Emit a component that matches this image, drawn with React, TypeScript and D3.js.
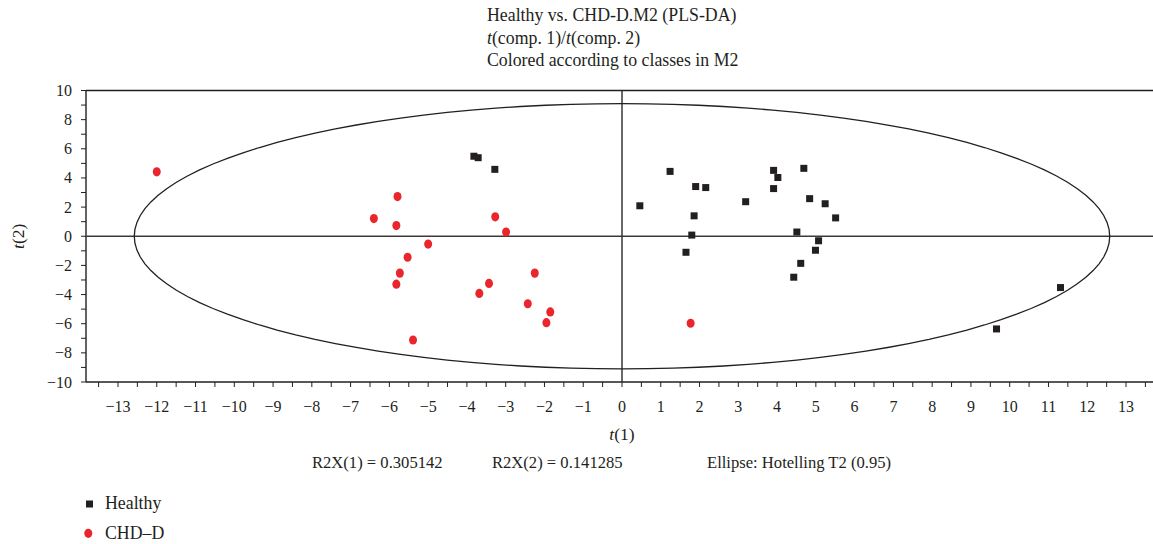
import React from 'react'
import * as d3 from 'd3'

// scores, t(1) / t(2)
const healthyT1 = [-3.82, -3.71, -3.28, 0.46, 1.24, 1.90, 2.16, 1.86, 1.80, 1.65, 3.19, 3.91, 4.02, 3.91, 4.69, 4.84, 5.24, 5.51, 4.51, 5.07, 4.99, 4.61, 4.43, 11.31, 9.66]
const healthyT2 = [5.49, 5.39, 4.59, 2.09, 4.45, 3.41, 3.34, 1.40, 0.08, -1.10, 2.37, 4.52, 4.03, 3.27, 4.66, 2.58, 2.23, 1.26, 0.29, -0.31, -0.96, -1.86, -2.81, -3.52, -6.36]

const chdT1 = [-12.0, -5.79, -6.40, -5.82, -3.27, -2.99, -5.00, -5.53, -5.73, -5.82, -2.25, -3.43, -3.68, -2.43, -1.85, -1.95, -5.39, 1.77]
const chdT2 = [4.42, 2.72, 1.21, 0.73, 1.33, 0.29, -0.54, -1.44, -2.53, -3.29, -2.53, -3.24, -3.92, -4.63, -5.19, -5.93, -7.12, -5.97]

// Hotelling T2 (0.95) semi axes
const ellipseA = 12.58
const ellipseB = 9.1

const titleLines = ['Healthy vs. CHD-D.M2 (PLS-DA)', 't(comp. 1)/t(comp. 2)', 'Colored according to classes in M2']
const statLabels = ['R2X(1) = 0.305142', 'R2X(2) = 0.141285', 'Ellipse: Hotelling T2 (0.95)']
const legendLabels = ['Healthy', 'CHD\u2013D']

const INK = '#231f20'
const RED = '#e8262b'
const FONT = '"Liberation Serif", "DejaVu Serif", serif'

const margin = { top: 90.5, left: 86, bottom: 162, right: -5 }
const width = 1153
const height = 544

export default function App () {
  const x = d3.scaleLinear().domain([-13.825, 13.825]).range([margin.left, width - margin.right])
  const y = d3.scaleLinear().domain([-10, 10]).range([height - margin.bottom, margin.top])

  const xMajor = d3.range(-13, 14, 1)
  const xMinor = d3.range(-13.5, 14, 0.5)
  const yMajor = d3.range(-10, 11, 2)
  const yMinor = d3.range(-10, 11, 1)
  const fmt = d3.format('d')

  const ellipsePts = d3.range(0, 361, 3).map((deg) => {
    const a = deg * Math.PI / 180
    return [ellipseA * Math.cos(a), ellipseB * Math.sin(a)]
  })
  const ellipsePath = d3.line()
    .x((d) => x(d[0]))
    .y((d) => y(d[1]))
    .curve(d3.curveLinearClosed)(ellipsePts as [number, number][])

  const x0 = x.range()[0]
  const x1 = width
  const yTop = y(10)
  const yBot = y(-10)

  return (
    <div style={{ position: 'fixed', left: 0, top: 0, width, height, overflow: 'hidden' }}>
      <svg width={width} height={height} style={{ display: 'block', fontFamily: FONT }}>
        <rect width={width} height={height} fill='#fff' />

        {/* title */}
        <g fill={INK} fontSize={17.8}>
          <text x={487} y={20.5}>{titleLines[0]}</text>
          <text x={487} y={43.5}>
            <tspan fontStyle='italic'>t</tspan>(comp. 1)/<tspan fontStyle='italic'>t</tspan>(comp. 2)
          </text>
          <text x={487} y={66}>{titleLines[2]}</text>
        </g>

        {/* frame */}
        <g stroke={INK} strokeWidth={1.4} fill='none'>
          <line x1={x0} x2={x1} y1={yTop} y2={yTop} />
          <line x1={x0} x2={x0} y1={yTop} y2={yBot} />
          <line x1={x0} x2={x1} y1={yBot} y2={yBot} />
          <line x1={x0} x2={x1} y1={y(0)} y2={y(0)} stroke='#3a3a3a' />
          <line x1={x(0)} x2={x(0)} y1={yTop} y2={yBot} stroke='#2a2a2a' />
        </g>

        {/* x axis */}
        <g stroke={INK} strokeWidth={1}>
          {xMinor.map((t) => (
            <line key={'xm' + t} x1={x(t)} x2={x(t)} y1={yBot} y2={yBot + 5} />
          ))}
        </g>
        <g fill={INK} fontSize={16} textAnchor='middle'>
          {xMajor.map((t) => (
            <text key={'xl' + t} x={x(t)} y={yBot + 29.5}>{fmt(t)}</text>
          ))}
        </g>

        {/* y axis */}
        <g stroke={INK} strokeWidth={1}>
          {yMinor.map((t) => (
            <line key={'ym' + t} x1={x0 - 5} x2={x0} y1={y(t)} y2={y(t)} />
          ))}
        </g>
        <g fill={INK} fontSize={16} textAnchor='end'>
          {yMajor.map((t) => (
            <text key={'yl' + t} x={x0 - 14} y={y(t) + 5.5}>{fmt(t)}</text>
          ))}
        </g>

        {/* axis titles */}
        <text x={x(0)} y={440} fontSize={17.5} fill={INK} textAnchor='middle'>
          <tspan fontStyle='italic'>t</tspan>(1)
        </text>
        <text transform={`translate(24,${y(0)}) rotate(-90)`} fontSize={17.5} fill={INK} textAnchor='middle'>
          <tspan fontStyle='italic'>t</tspan>(2)
        </text>

        {/* ellipse */}
        <path d={ellipsePath || ''} fill='none' stroke={INK} strokeWidth={1.3} />

        {/* points */}
        <g fill={INK}>
          {healthyT1.map((v, i) => (
            <rect key={'h' + i} x={x(v) - 3.5} y={y(healthyT2[i]) - 3.5} width={7} height={7} />
          ))}
        </g>
        <g fill={RED}>
          {chdT1.map((v, i) => (
            <ellipse key={'c' + i} cx={x(v)} cy={y(chdT2[i])} rx={4} ry={4.6} />
          ))}
        </g>

        {/* stats line */}
        <g fill={INK} fontSize={16.6}>
          <text x={312} y={468}>{statLabels[0]}</text>
          <text x={492} y={468}>{statLabels[1]}</text>
          <text x={707} y={468}>{statLabels[2]}</text>
        </g>

        {/* legend */}
        <g fill={INK} fontSize={17.8}>
          <rect x={86} y={500.5} width={7} height={7} />
          <text x={105} y={509}>{legendLabels[0]}</text>
          <ellipse cx={88.3} cy={533.3} rx={4} ry={4.6} fill={RED} />
          <text x={105} y={538.5}>{legendLabels[1]}</text>
        </g>
      </svg>
    </div>
  )
}
